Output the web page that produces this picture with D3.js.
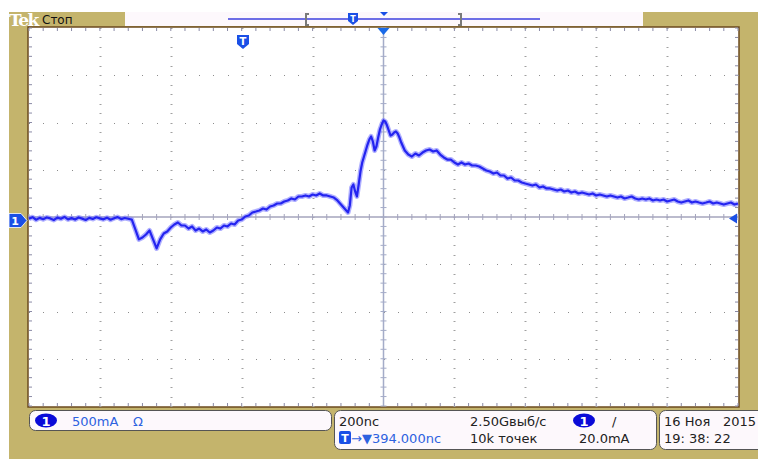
<!DOCTYPE html>
<html>
<head>
<meta charset="utf-8">
<script src="https://cdn.jsdelivr.net/npm/d3@7"></script>
<style>
body { margin: 0; background: #fff; }
text { font-family: "DejaVu Sans", sans-serif; }
</style>
</head>
<body>
<svg id="scope" width="758" height="459"></svg>
<script>
// trace: [time ns (0 = screen centre), current mA]
var trace = [
    [-1000, 20], [-990, 35], [-980, 8], [-970, 28], [-960, 14], [-950, 32], [-940, 22], [-930, 5],
    [-920, 30], [-910, 18], [-900, 38], [-890, 12], [-880, 25], [-870, 10], [-860, 32], [-850, 20],
    [-840, 6], [-830, 28], [-820, 16], [-810, 34], [-800, 22], [-790, 12], [-780, 30], [-770, 8],
    [-760, 24], [-750, 36], [-740, 15], [-730, 26], [-720, 18], [-710, 10], [-700, -95], [-690, -200],
    [-680, -180], [-670, -148], [-660, -106], [-650, -200], [-640, -296], [-630, -200], [-620, -138],
    [-610, -116], [-600, -74], [-590, -42], [-580, -21], [-570, -53], [-560, -53], [-550, -85],
    [-540, -63], [-530, -106], [-520, -85], [-510, -116], [-500, -95], [-490, -127], [-480, -106],
    [-470, -74], [-460, -85], [-450, -53], [-440, -63], [-430, -32], [-420, -42], [-410, 0],
    [-400, 10], [-390, 42], [-380, 53], [-370, 85], [-360, 95], [-350, 106], [-340, 127], [-330, 116],
    [-320, 148], [-310, 159], [-300, 180], [-290, 180], [-280, 201], [-270, 212], [-260, 233],
    [-250, 222], [-240, 254], [-230, 254], [-220, 265], [-210, 254], [-200, 275], [-190, 265],
    [-180, 286], [-170, 265], [-160, 265], [-150, 254], [-140, 243], [-130, 212], [-120, 169],
    [-110, 127], [-100, 85], [-95, 159], [-90, 349], [-85, 381], [-80, 307], [-75, 254], [-70, 381],
    [-65, 518], [-60, 614], [-55, 677], [-50, 741], [-45, 804], [-40, 857], [-35, 889], [-30, 836],
    [-25, 741], [-20, 783], [-15, 878], [-10, 963], [-5, 1016], [0, 1058], [5, 1047], [10, 1005],
    [15, 952], [20, 899], [25, 910], [30, 931], [35, 942], [40, 920], [45, 878], [50, 825],
    [60, 741], [70, 698], [80, 677], [90, 709], [100, 688], [110, 719], [120, 741], [130, 751],
    [140, 730], [150, 741], [160, 698], [170, 667], [180, 645], [190, 645], [200, 614], [210, 592],
    [220, 614], [230, 592], [240, 603], [250, 582], [260, 582], [270, 571], [280, 550], [290, 529],
    [300, 518], [310, 497], [320, 508], [330, 476], [340, 476], [350, 444], [360, 455], [370, 423],
    [380, 423], [390, 402], [400, 391], [410, 381], [420, 370], [430, 381], [440, 349], [450, 360],
    [460, 339], [470, 339], [480, 328], [490, 317], [500, 328], [510, 307], [520, 317], [530, 296],
    [540, 307], [550, 286], [560, 296], [570, 286], [580, 275], [590, 286], [600, 265], [610, 275],
    [620, 265], [630, 254], [640, 265], [650, 254], [660, 243], [670, 254], [680, 233], [690, 243],
    [700, 254], [710, 233], [720, 222], [730, 233], [740, 222], [750, 233], [760, 212], [770, 222],
    [780, 212], [790, 222], [800, 201], [810, 212], [820, 222], [830, 201], [840, 190], [850, 201],
    [860, 212], [870, 190], [880, 201], [890, 190], [900, 180], [910, 190], [920, 201], [930, 180],
    [940, 190], [950, 180], [960, 169], [970, 180], [980, 190], [990, 169], [1000, 180]
];

var hDivs = 10, vDivs = 8;
var timePerDiv = 200;   // ns
var ampsPerDiv = 500;   // mA
var groundDiv = -0.074; // ch1 ground below centre
var triggerLevel = 20;  // mA

var statusText = {
    stop: "Стоп",
    scale: "500mA",
    coupling: "Ω",
    timebase: "200nс",
    rate: "2.50Gвыб/с",
    delay: "→▼394.000nс",
    record: "10k точек",
    trigLevel: "20.0mA",
    date: "16 Ноя",
    year: "2015",
    time: "19: 38: 22"
};

var khaki = "#c4b46c", paper = "#fdf8fc", blue = "#1a4fe6", txtBlue = "#2d62e0";

var svg = d3.select("#scope"),
    plot = { left: 29, right: 738, top: 28, bottom: 406 };

var gx = d3.scaleLinear().domain([-hDivs / 2, hDivs / 2]).range([plot.left, plot.right]),
    gy = d3.scaleLinear().domain([-vDivs / 2, vDivs / 2]).range([plot.bottom, plot.top]);

var x = d3.scaleLinear()
    .domain([-hDivs / 2 * timePerDiv, hDivs / 2 * timePerDiv])
    .range([plot.left, plot.right]);

var y = d3.scaleLinear()
    .domain([(-vDivs / 2 - groundDiv) * ampsPerDiv, (vDivs / 2 - groundDiv) * ampsPerDiv])
    .range([plot.bottom, plot.top]);

// background
svg.append("rect").attr("width", 758).attr("height", 459).attr("fill", "#fff");
svg.append("rect").attr("x", 9).attr("y", 12).attr("width", 749).attr("height", 447).attr("fill", khaki);

// top bar
svg.append("text").attr("x", 9).attr("y", 26)
    .style("font-family", '"DejaVu Serif", serif').style("font-weight", "bold")
    .style("font-size", "17px").attr("fill", "#fff").attr("letter-spacing", "-1.5")
    .text("Tek");
svg.append("text").attr("x", 42).attr("y", 24).style("font-size", "12px").attr("fill", "#111")
    .text(statusText.stop);
svg.append("rect").attr("x", 125).attr("y", 12).attr("width", 518).attr("height", 14).attr("fill", paper);
svg.append("line").attr("x1", 228).attr("x2", 540).attr("y1", 19).attr("y2", 19)
    .attr("stroke", "#6e6ee6").attr("stroke-width", 2);
svg.append("path").attr("d", "M309,14H306V25H309M458,14H461V25H458")
    .attr("fill", "none").attr("stroke", "#7a7a7a").attr("stroke-width", 2);
svg.append("path").attr("d", "M348,13h10v8l-5,4l-5,-4Z").attr("fill", blue);
svg.append("text").attr("x", 353).attr("y", 22).attr("text-anchor", "middle")
    .style("font-size", "8px").style("font-weight", "bold").attr("fill", "#fff").text("T");
svg.append("path").attr("d", "M380,12h8l-4,4Z").attr("fill", blue);

// plot area
svg.append("rect").attr("x", 28).attr("y", 27).attr("width", 711).attr("height", 380)
    .attr("fill", "#fff").attr("stroke", "#6b4a1e").attr("stroke-width", 1.5);

var grid = svg.append("g");
var minorX = d3.range(-hDivs / 2, hDivs / 2 + 0.001, 0.2),
    minorY = d3.range(-vDivs / 2, vDivs / 2 + 0.001, 0.2);

// dots on major lines
d3.range(-vDivs / 2 + 1, vDivs / 2).forEach(function (j) {
    if (j === 0) return;
    grid.selectAll(null).data(minorX).enter().append("rect")
        .attr("x", function (d) { return Math.round(gx(d)); })
        .attr("y", Math.round(gy(j)))
        .attr("width", 1).attr("height", 1).attr("fill", "#8c8c8c");
});
d3.range(-hDivs / 2 + 1, hDivs / 2).forEach(function (i) {
    if (i === 0) return;
    grid.selectAll(null).data(minorY).enter().append("rect")
        .attr("x", Math.round(gx(i)) - 0.5)
        .attr("y", function (d) { return Math.round(gy(d)); })
        .attr("width", 2).attr("height", 1).attr("fill", "#a0a0a0");
});

// border ticks
grid.selectAll(null).data(minorX).enter().append("line")
    .attr("x1", function (d) { return gx(d); }).attr("x2", function (d) { return gx(d); })
    .attr("y1", plot.top).attr("y2", plot.top + 3).attr("stroke", "#8a8aa6");
grid.selectAll(null).data(minorX).enter().append("line")
    .attr("x1", function (d) { return gx(d); }).attr("x2", function (d) { return gx(d); })
    .attr("y1", plot.bottom - 3).attr("y2", plot.bottom).attr("stroke", "#8a8aa6");
grid.selectAll(null).data(minorY).enter().append("line")
    .attr("y1", function (d) { return gy(d); }).attr("y2", function (d) { return gy(d); })
    .attr("x1", plot.left).attr("x2", plot.left + 3).attr("stroke", "#8a8aa6");
grid.selectAll(null).data(minorY).enter().append("line")
    .attr("y1", function (d) { return gy(d); }).attr("y2", function (d) { return gy(d); })
    .attr("x1", plot.right - 3).attr("x2", plot.right).attr("stroke", "#8a8aa6");

// centre cross
grid.append("line").attr("x1", plot.left).attr("x2", plot.right)
    .attr("y1", gy(0)).attr("y2", gy(0)).attr("stroke", "#a4a4bc").attr("stroke-width", 1.5);
grid.append("line").attr("x1", gx(0)).attr("x2", gx(0))
    .attr("y1", plot.top).attr("y2", plot.bottom).attr("stroke", "#a4acc8").attr("stroke-width", 1.5);
grid.selectAll(null).data(minorX).enter().append("line")
    .attr("x1", function (d) { return gx(d); }).attr("x2", function (d) { return gx(d); })
    .attr("y1", gy(0) - 3).attr("y2", gy(0) + 3).attr("stroke", "#a4a4bc");
grid.selectAll(null).data(minorY).enter().append("line")
    .attr("y1", function (d) { return gy(d); }).attr("y2", function (d) { return gy(d); })
    .attr("x1", gx(0) - 3).attr("x2", gx(0) + 3).attr("stroke", "#a4acc8");

// trace
var line = d3.line()
    .x(function (d) { return x(d[0]); })
    .y(function (d) { return y(d[1]); });

svg.append("path").datum(trace).attr("d", line)
    .attr("fill", "none").attr("stroke", "#7c7cff").attr("stroke-opacity", 0.6)
    .attr("stroke-width", 5).attr("stroke-linejoin", "round");
svg.append("path").datum(trace).attr("d", line)
    .attr("fill", "none").attr("stroke", "#2424f0")
    .attr("stroke-width", 2.2).attr("stroke-linejoin", "round");

// markers
var gyPix = y(0);
svg.append("path").attr("d", "M9," + (gyPix - 7) + "h12l6,7l-6,7h-12Z")
    .attr("fill", blue).attr("stroke", "#fff").attr("stroke-width", 0.8);
svg.append("text").attr("x", 15).attr("y", gyPix + 4.5).attr("text-anchor", "middle")
    .style("font-size", "11px").style("font-weight", "bold").attr("fill", "#fff").text("1");

var ty = y(triggerLevel);
svg.append("path").attr("d", "M729," + ty + "l8,-5v10Z").attr("fill", blue);

svg.append("path").attr("d", "M" + (x(0) - 6) + "," + plot.top + "h12l-6,7Z").attr("fill", "#1a6ae8");

svg.append("path").attr("d", "M237,35h12v9l-6,5l-6,-5Z").attr("fill", blue);
svg.append("text").attr("x", 243).attr("y", 45).attr("text-anchor", "middle")
    .style("font-size", "10px").style("font-weight", "bold").attr("fill", "#fff").text("T");

// status panels
function box(x0, y0, w, h) {
    svg.append("rect").attr("x", x0).attr("y", y0).attr("width", w).attr("height", h)
        .attr("rx", 6).attr("fill", paper).attr("stroke", "#555").attr("stroke-width", 1);
}
function label(x0, y0, s, color) {
    svg.append("text").attr("x", x0).attr("y", y0).style("font-size", "13px")
        .attr("fill", color || "#222").text(s);
}
function pill(cx, cy) {
    svg.append("ellipse").attr("cx", cx).attr("cy", cy).attr("rx", 11).attr("ry", 7).attr("fill", "#0a0ad8");
    svg.append("text").attr("x", cx).attr("y", cy + 5).attr("text-anchor", "middle")
        .style("font-size", "13px").style("font-weight", "bold").attr("fill", "#fff").text("1");
}

box(29.5, 410.5, 302, 20);
pill(46, 420.5);
label(72, 425.5, statusText.scale, txtBlue);
label(133, 425.5, statusText.coupling, txtBlue);

box(334.5, 410.5, 322, 39);
label(339, 425.5, statusText.timebase);
label(470, 425.5, statusText.rate);
pill(584, 420.5);
label(612, 425.5, "/");
svg.append("rect").attr("x", 339).attr("y", 431).attr("width", 12).attr("height", 13).attr("rx", 2).attr("fill", blue);
svg.append("text").attr("x", 345).attr("y", 442).attr("text-anchor", "middle")
    .style("font-size", "11px").style("font-weight", "bold").attr("fill", "#fff").text("T");
label(351, 442.5, statusText.delay, txtBlue);
label(470, 442.5, statusText.record);
label(579, 442.5, statusText.trigLevel);

box(659.5, 410.5, 120, 39);
label(664, 425.5, statusText.date);
svg.append("text").attr("x", 756).attr("y", 425.5).attr("text-anchor", "end")
    .style("font-size", "13px").attr("fill", "#222").text(statusText.year);
label(664, 442.5, statusText.time);
</script>
</body>
</html>
